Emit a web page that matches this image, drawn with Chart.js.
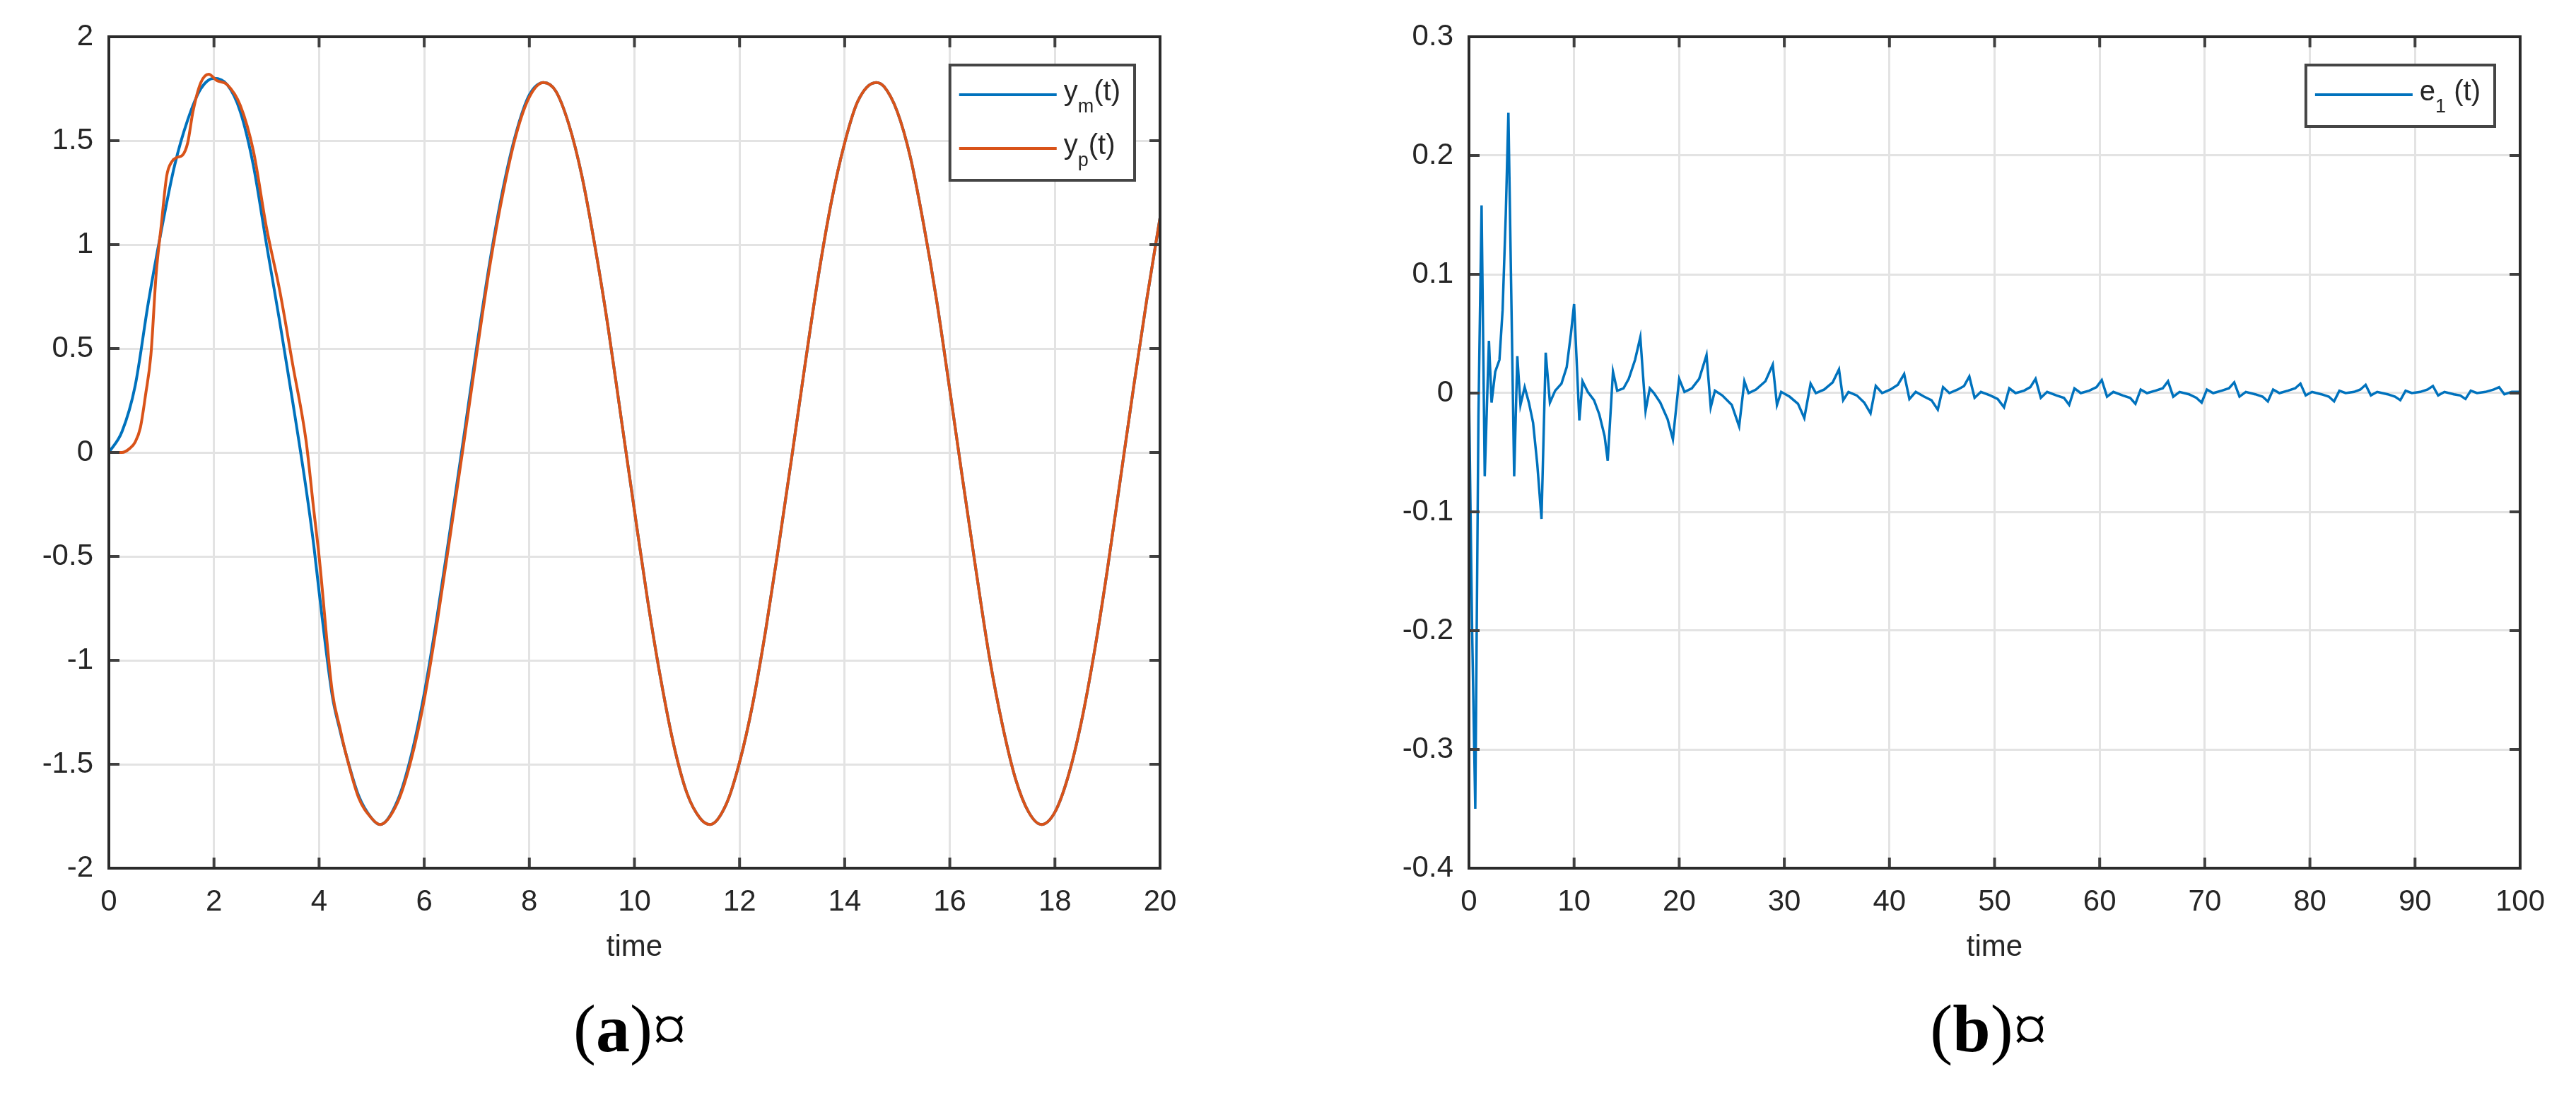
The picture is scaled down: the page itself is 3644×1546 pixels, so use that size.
<!DOCTYPE html>
<html>
<head>
<meta charset="utf-8">
<title>Tracking response and error</title>
<script src="https://cdn.jsdelivr.net/npm/chart.js@4.4.0/dist/chart.umd.min.js"></script>
<style>
  html, body { margin: 0; padding: 0; background: #fff; }
  #page { position: relative; width: 3644px; height: 1546px; overflow: hidden; }
  .panel { position: absolute; top: 0; height: 1366px; }
  #panelA { left: 0; width: 1700px; }
  #panelB { left: 1900px; width: 1744px; }
  .caption {
    position: absolute; top: 1407px;
    font-family: "Liberation Serif", "Times New Roman", serif;
    font-size: 96px; line-height: 96px; color: #000;
    transform: translateX(-50%); white-space: nowrap;
  }
</style>
</head>
<body>
<div id="page">
  <div class="panel" id="panelA"><canvas id="chartA"></canvas></div>
  <div class="panel" id="panelB"><canvas id="chartB"></canvas></div>
  <div class="caption" style="left:891px">(<b>a</b>)¤</div>
  <div class="caption" style="left:2813px">(<b>b</b>)¤</div>
</div>
<script>
// (a) reference model output y_m(t) and plant output y_p(t)
const ymTime = [0, 0.25, 0.5, 0.75, 1, 1.25, 1.5, 1.75, 2, 2.25, 2.5, 2.75, 3, 3.25, 3.5, 3.75, 3.9, 4, 4.25, 4.4, 4.5, 4.75, 5, 5.16,
  5.5, 5.75, 6, 6.25, 6.5, 6.75, 7, 7.25, 7.5, 7.75, 8, 8.27, 8.5, 8.75, 9, 9.25, 9.5, 9.75, 10, 10.25, 10.5, 10.75, 11, 11.25, 11.44,
  11.75, 12, 12.25, 12.5, 12.75, 13, 13.25, 13.5, 13.75, 14, 14.25, 14.6, 14.75, 15, 15.25, 15.5, 15.75, 16, 16.25, 16.5, 16.75, 17,
  17.25, 17.5, 17.745, 18, 18.25, 18.5, 18.75, 19, 19.25, 19.5, 19.75, 20];
const ymValues = [0, 0.10, 0.32, 0.72, 1.07, 1.38, 1.60, 1.75, 1.80, 1.77, 1.64, 1.38, 1.00, 0.63, 0.24, -0.17, -0.45, -0.67, -1.17, -1.34, -1.44, -1.65, -1.76, -1.79,
  -1.67, -1.46, -1.16, -0.78, -0.36, 0.07, 0.51, 0.92, 1.27, 1.54, 1.72, 1.78, 1.74, 1.58, 1.33, 0.99, 0.60, 0.16, -0.28, -0.71, -1.09, -1.41, -1.64, -1.76, -1.79,
  -1.69, -1.49, -1.21, -0.85, -0.44, -0.01, 0.43, 0.85, 1.21, 1.49, 1.69, 1.78, 1.76, 1.64, 1.42, 1.10, 0.73, 0.30, -0.14, -0.57, -0.98, -1.31,
  -1.57, -1.73, -1.79, -1.73, -1.56, -1.30, -0.96, -0.56, -0.12, 0.32, 0.74, 1.13];

const ypTime = [0, 0.25, 0.4, 0.5, 0.6, 0.7, 0.8, 0.9, 1, 1.1, 1.2, 1.3, 1.4, 1.5, 1.6, 1.75, 1.9, 2.05, 2.25, 2.5, 2.75, 3, 3.25, 3.5, 3.75, 3.9, 4, 4.25, 4.4, 4.5, 4.75, 5, 5.16,
  5.5, 5.75, 6, 6.25, 6.5, 6.75, 7, 7.25, 7.5, 7.75, 8, 8.27, 8.5, 8.75, 9, 9.25, 9.5, 9.75, 10, 10.25, 10.5, 10.75, 11, 11.25, 11.44,
  11.75, 12, 12.25, 12.5, 12.75, 13, 13.25, 13.5, 13.75, 14, 14.25, 14.6, 14.75, 15, 15.25, 15.5, 15.75, 16, 16.25, 16.5, 16.75, 17,
  17.25, 17.5, 17.745, 18, 18.25, 18.5, 18.75, 19, 19.25, 19.5, 19.75, 20];
const ypValues = [0, 0, 0.02, 0.05, 0.12, 0.28, 0.47, 0.86, 1.10, 1.33, 1.40, 1.42, 1.43, 1.49, 1.64, 1.78, 1.82, 1.79, 1.77, 1.67, 1.45, 1.08, 0.78, 0.42, 0.06, -0.28, -0.50, -1.15, -1.33, -1.44, -1.66, -1.76, -1.79,
  -1.68, -1.48, -1.19, -0.81, -0.39, 0.04, 0.48, 0.90, 1.25, 1.53, 1.71, 1.78, 1.74, 1.58, 1.33, 0.99, 0.60, 0.16, -0.28, -0.71, -1.09, -1.41, -1.64, -1.76, -1.79,
  -1.69, -1.49, -1.21, -0.85, -0.44, -0.01, 0.43, 0.85, 1.21, 1.49, 1.69, 1.78, 1.76, 1.64, 1.42, 1.10, 0.73, 0.30, -0.14, -0.57, -0.98, -1.31,
  -1.57, -1.73, -1.79, -1.73, -1.56, -1.30, -0.96, -0.56, -0.12, 0.32, 0.74, 1.13];

// (b) tracking error e_1(t)
const errTime = [0, 0.3, 0.6, 0.9, 1.2, 1.5, 1.9, 2.15, 2.5, 2.9, 3.2, 3.5, 3.75, 4.3, 4.6, 4.9, 5.3, 5.7, 6.1, 6.5, 6.9, 7.3, 7.7, 8.2,
  8.8, 9.3, 9.7, 10, 10.5, 10.8, 11.3, 11.9, 12.4, 12.9, 13.2, 13.7, 14.1, 14.7, 15.2, 15.8, 16.3, 16.8, 17.2, 17.6, 18.2, 18.9, 19.4, 20,
  20.5, 21.2, 21.9, 22.6, 23, 23.4, 24.1, 25, 25.7, 26.2, 26.6, 27.3, 28.2, 28.9, 29.3, 29.7, 30.5, 31.3, 31.9, 32.5, 33, 33.8, 34.6, 35.2,
  35.6, 36.1, 36.9, 37.6, 38.2, 38.7, 39.3, 40.1, 40.8, 41.4, 41.9, 42.5, 43.3, 44, 44.6, 45.1, 45.7, 46.5, 47.1, 47.6, 48.1, 48.7,
  49.6, 50.3, 50.9, 51.4, 52, 52.8, 53.4, 53.9, 54.4, 55, 55.9, 56.6, 57.1, 57.6, 58.2, 59, 59.7, 60.2, 60.7, 61.3, 62.2, 62.9, 63.4,
  63.9, 64.5, 65.3, 66, 66.5, 67, 67.6, 68.5, 69.2, 69.7, 70.2, 70.8, 71.6, 72.3, 72.8, 73.3, 73.9, 74.8, 75.5, 76, 76.5, 77.1, 77.9,
  78.6, 79.1, 79.6, 80.2, 81.1, 81.8, 82.3, 82.8, 83.4, 84.2, 84.8, 85.3, 85.8, 86.4, 87.4, 88.1, 88.6, 89.1, 89.7, 90.5, 91.2, 91.7,
  92.2, 92.8, 93.7, 94.3, 94.8, 95.3, 95.9, 96.7, 97.5, 98, 98.5, 99.2, 100];
const errValues = [0, -0.20, -0.35, -0.02, 0.158, -0.07, 0.044, -0.008, 0.018, 0.028, 0.07, 0.15, 0.236, -0.07, 0.031, -0.01, 0.005, -0.008, -0.025, -0.06, -0.106, 0.034, -0.008, 0.002,
  0.008, 0.022, 0.05, 0.075, -0.023, 0.010, 0.001, -0.006, -0.018, -0.036, -0.057, 0.018, 0.002, 0.004, 0.012, 0.028, 0.047, -0.015, 0.004, 0.000, -0.008, -0.022, -0.039, 0.012,
  0.001, 0.004, 0.012, 0.032, -0.012, 0.002, -0.002, -0.010, -0.028, 0.010, 0.000, 0.003, 0.010, 0.024, -0.010, 0.001, -0.003, -0.009, -0.021, 0.008, 0.000, 0.003, 0.009, 0.020,
  -0.006, 0.001, -0.002, -0.008, -0.017, 0.006, 0.000, 0.003, 0.007, 0.016, -0.005, 0.001, -0.003, -0.006, -0.014, 0.005, 0.000, 0.003, 0.006, 0.014, -0.004, 0.001,
  -0.002, -0.005, -0.012, 0.004, 0.000, 0.002, 0.005, 0.012, -0.004, 0.001, -0.002, -0.004, -0.010, 0.004, 0.000, 0.002, 0.005, 0.011, -0.003, 0.001, -0.002, -0.004, -0.009,
  0.003, 0.000, 0.002, 0.004, 0.010, -0.003, 0.001, -0.001, -0.004, -0.008, 0.003, 0.000, 0.002, 0.004, 0.009, -0.003, 0.001, -0.001, -0.003, -0.007, 0.003, 0.000, 0.002,
  0.004, 0.008, -0.002, 0.001, -0.001, -0.003, -0.007, 0.002, 0.000, 0.001, 0.003, 0.007, -0.002, 0.001, -0.001, -0.003, -0.006, 0.002, 0.000, 0.001, 0.003, 0.006,
  -0.002, 0.001, -0.001, -0.002, -0.005, 0.002, 0.000, 0.001, 0.003, 0.005, -0.001, 0.001, 0.001];

// axis ticks
const xTicksA = [0, 2, 4, 6, 8, 10, 12, 14, 16, 18, 20];
const yTicksA = [-2, -1.5, -1, -0.5, 0, 0.5, 1, 1.5, 2];
const xTicksB = [0, 10, 20, 30, 40, 50, 60, 70, 80, 90, 100];
const yTicksB = [-0.4, -0.3, -0.2, -0.1, 0, 0.1, 0.2, 0.3];

// legend labels: [base, subscript, tail]
const legendA = [['y', 'm', '(t)'], ['y', 'p', '(t)']];
const legendB = [['e', '1', ' (t)']];

const AXIS_FONT = '"Liberation Sans", Arial, sans-serif';
const TEXT_COLOR = '#262626';
const BLUE = '#0072BD';
const ORANGE = '#D95319';

Chart.defaults.font.family = AXIS_FONT;

const toPoints = (xs, ys) => xs.map((x, i) => ({ x, y: ys[i] }));

/**
 * Box around the axes plus MATLAB style inward tick marks
 */
const frame = {
  id: 'matlabFrame',
  afterDraw(chart) {
    const { ctx, chartArea: a, scales } = chart;
    const len = 15;
    ctx.save();
    ctx.strokeStyle = '#404040';
    ctx.lineWidth = 4;
    ctx.beginPath();
    for (const t of scales.x.ticks) {
      const px = scales.x.getPixelForValue(t.value);
      ctx.moveTo(px, a.bottom);
      ctx.lineTo(px, a.bottom - len);
      ctx.moveTo(px, a.top);
      ctx.lineTo(px, a.top + len);
    }
    for (const t of scales.y.ticks) {
      const py = scales.y.getPixelForValue(t.value);
      ctx.moveTo(a.left, py);
      ctx.lineTo(a.left + len, py);
      ctx.moveTo(a.right, py);
      ctx.lineTo(a.right - len, py);
    }
    ctx.stroke();
    ctx.strokeStyle = '#2b2b2b';
    ctx.strokeRect(a.left, a.top, a.right - a.left, a.bottom - a.top);
    ctx.restore();
  }
};

/**
 * Legend box in the upper right corner, labels with subscripts
 */
const subLegend = {
  id: 'subLegend',
  afterDraw(chart, args, opts) {
    const entries = opts.entries;
    if (!entries) return;
    const { ctx, chartArea: a } = chart;
    const mainFont = `40px ${AXIS_FONT}`;
    const subFont = `27px ${AXIS_FONT}`;

    ctx.save();
    const widths = entries.map(([base, sub, tail]) => {
      ctx.font = mainFont;
      let w = ctx.measureText(base).width + ctx.measureText(tail).width;
      ctx.font = subFont;
      return w + ctx.measureText(sub).width;
    });
    const w = 161 + Math.max(...widths) + 20;
    const h = 11 + 76 * entries.length;
    const left = a.right - 36 - w;
    const top = a.top + 40;

    ctx.fillStyle = '#fff';
    ctx.fillRect(left, top, w, h);
    ctx.strokeStyle = '#454545';
    ctx.lineWidth = 4;
    ctx.strokeRect(left, top, w, h);

    entries.forEach(([base, sub, tail], i) => {
      const y = top + 42 + 76 * i;
      ctx.strokeStyle = chart.data.datasets[i].borderColor;
      ctx.lineWidth = 4;
      ctx.beginPath();
      ctx.moveTo(left + 13, y);
      ctx.lineTo(left + 151, y);
      ctx.stroke();

      let x = left + 161;
      const baseline = y + 8;
      ctx.fillStyle = TEXT_COLOR;
      ctx.textBaseline = 'alphabetic';
      ctx.textAlign = 'left';
      ctx.font = mainFont;
      ctx.fillText(base, x, baseline);
      x += ctx.measureText(base).width;
      ctx.font = subFont;
      ctx.fillText(sub, x, baseline + 17);
      x += ctx.measureText(sub).width;
      ctx.font = mainFont;
      ctx.fillText(tail, x, baseline);
    });
    ctx.restore();
  }
};

/**
 * Builds the linear scales shared by both panels
 */
function buildScales(xTicks, yTicks, yAxisWidth) {
  const tickFont = { size: 42, family: AXIS_FONT };
  const fmt = v => String(Number(v.toFixed(3)));
  return {
    x: {
      type: 'linear',
      min: xTicks[0],
      max: xTicks[xTicks.length - 1],
      afterBuildTicks(scale) { scale.ticks = xTicks.map(value => ({ value })); },
      afterFit(scale) { scale.height = 138; },
      grid: { color: '#e3e3e3', lineWidth: 3, drawTicks: false },
      border: { display: false },
      ticks: { font: tickFont, color: TEXT_COLOR, padding: 23, maxRotation: 0, autoSkip: false, callback: fmt },
      title: { display: true, text: 'time', font: { size: 42, family: AXIS_FONT }, color: TEXT_COLOR, padding: 0 }
    },
    y: {
      type: 'linear',
      min: yTicks[0],
      max: yTicks[yTicks.length - 1],
      afterBuildTicks(scale) { scale.ticks = yTicks.map(value => ({ value })); },
      afterFit(scale) { scale.width = yAxisWidth; },
      grid: { color: '#e3e3e3', lineWidth: 3, drawTicks: false },
      border: { display: false },
      ticks: { font: tickFont, color: TEXT_COLOR, padding: 22, autoSkip: false, callback: fmt }
    }
  };
}

function baseOptions(scales, legendEntries, rightPad) {
  return {
    responsive: true,
    maintainAspectRatio: false,
    animation: false,
    events: [],
    layout: { padding: { top: 52, right: rightPad, left: 0, bottom: 0 } },
    elements: { point: { radius: 0 } },
    plugins: {
      legend: { display: false },
      tooltip: { enabled: false },
      subLegend: { entries: legendEntries }
    },
    scales
  };
}

new Chart(document.getElementById('chartA'), {
  type: 'line',
  data: {
    datasets: [
      { label: 'ym(t)', data: toPoints(ymTime, ymValues), borderColor: BLUE, borderWidth: 4, cubicInterpolationMode: 'monotone', fill: false, order: 1 },
      { label: 'yp(t)', data: toPoints(ypTime, ypValues), borderColor: ORANGE, borderWidth: 4, cubicInterpolationMode: 'monotone', fill: false, order: 0 }
    ]
  },
  options: baseOptions(buildScales(xTicksA, yTicksA, 154), legendA, 59),
  plugins: [frame, subLegend]
});

new Chart(document.getElementById('chartB'), {
  type: 'line',
  data: {
    datasets: [
      { label: 'e1(t)', data: toPoints(errTime, errValues), borderColor: BLUE, borderWidth: 3.5, tension: 0, fill: false }
    ]
  },
  options: baseOptions(buildScales(xTicksB, yTicksB, 178), legendB, 79),
  plugins: [frame, subLegend]
});
</script>
</body>
</html>
